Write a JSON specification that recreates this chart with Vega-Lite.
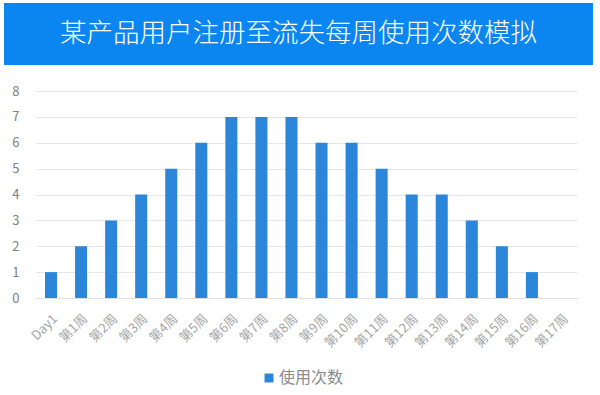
{
  "$schema": "https://vega.github.io/schema/vega-lite/v6.json",
  "padding": {"left": 4, "top": 3, "right": 5, "bottom": 2},
  "background": "white",
  "spacing": 20,
  "resolve": {"legend": {"color": "independent"}},
  "config": {
    "font": "Noto Sans CJK SC",
    "view": {"stroke": null}
  },
  "vconcat": [
    {
      "width": 589,
      "height": 62,
      "view": {"fill": "#0b86f0", "stroke": null},
      "data": {"values": [{"title": "某产品用户注册至流失每周使用次数模拟"}]},
      "mark": {"type": "text", "color": "white", "fontSize": 26.5, "font": "Noto Sans CJK SC", "fontWeight": 300, "baseline": "middle", "align": "center"},
      "encoding": {"text": {"field": "title"}}
    },
    {
      "spacing": 0,
      "resolve": {"legend": {"color": "independent"}},
      "hconcat": [
        {
          "width": 1,
          "height": 207,
          "data": {"values": [{"t": ""}]},
          "mark": {"type": "text"},
          "encoding": {"text": {"field": "t"}}
        },
        {
          "width": 541,
          "height": 207,
          "data": {"values": [
            {"period": "Day1", "count": 1, "series": "使用次数"},
            {"period": "第1周", "count": 2, "series": "使用次数"},
            {"period": "第2周", "count": 3, "series": "使用次数"},
            {"period": "第3周", "count": 4, "series": "使用次数"},
            {"period": "第4周", "count": 5, "series": "使用次数"},
            {"period": "第5周", "count": 6, "series": "使用次数"},
            {"period": "第6周", "count": 7, "series": "使用次数"},
            {"period": "第7周", "count": 7, "series": "使用次数"},
            {"period": "第8周", "count": 7, "series": "使用次数"},
            {"period": "第9周", "count": 6, "series": "使用次数"},
            {"period": "第10周", "count": 6, "series": "使用次数"},
            {"period": "第11周", "count": 5, "series": "使用次数"},
            {"period": "第12周", "count": 4, "series": "使用次数"},
            {"period": "第13周", "count": 4, "series": "使用次数"},
            {"period": "第14周", "count": 3, "series": "使用次数"},
            {"period": "第15周", "count": 2, "series": "使用次数"},
            {"period": "第16周", "count": 1, "series": "使用次数"},
            {"period": "第17周", "count": 0, "series": "使用次数"}
          ]},
          "mark": {"type": "bar"},
          "encoding": {
            "x": {
              "field": "period", "type": "nominal", "sort": null,
              "scale": {"paddingInner": 0.6, "paddingOuter": 0.3},
              "axis": {"title": null, "labelAngle": -45, "ticks": false, "domain": true, "domainColor": "#e0e0e0",
                       "labelColor": "#a6a6a6", "labelFontSize": 13, "labelPadding": 14, "grid": false}
            },
            "y": {
              "field": "count", "type": "quantitative",
              "scale": {"domain": [0, 8]},
              "axis": {"title": null, "values": [0,1,2,3,4,5,6,7,8], "labelOverlap": false, "ticks": false, "domain": false,
                       "gridColor": "#e6e6e6", "labelColor": "#808080", "labelFontSize": 13, "labelPadding": 17, "minExtent": 31}
            },
            "color": {
              "field": "series", "type": "nominal",
              "scale": {"range": ["#2b86d9"]},
              "legend": {"title": null, "orient": "none", "legendX": 225, "legendY": 279, "symbolType": "square", "symbolSize": 80,
                         "labelColor": "#8c8c8c", "labelFontSize": 16, "labelOffset": 2, "symbolStrokeWidth": 0}
            }
          }
        }
      ]
    }
  ]
}
